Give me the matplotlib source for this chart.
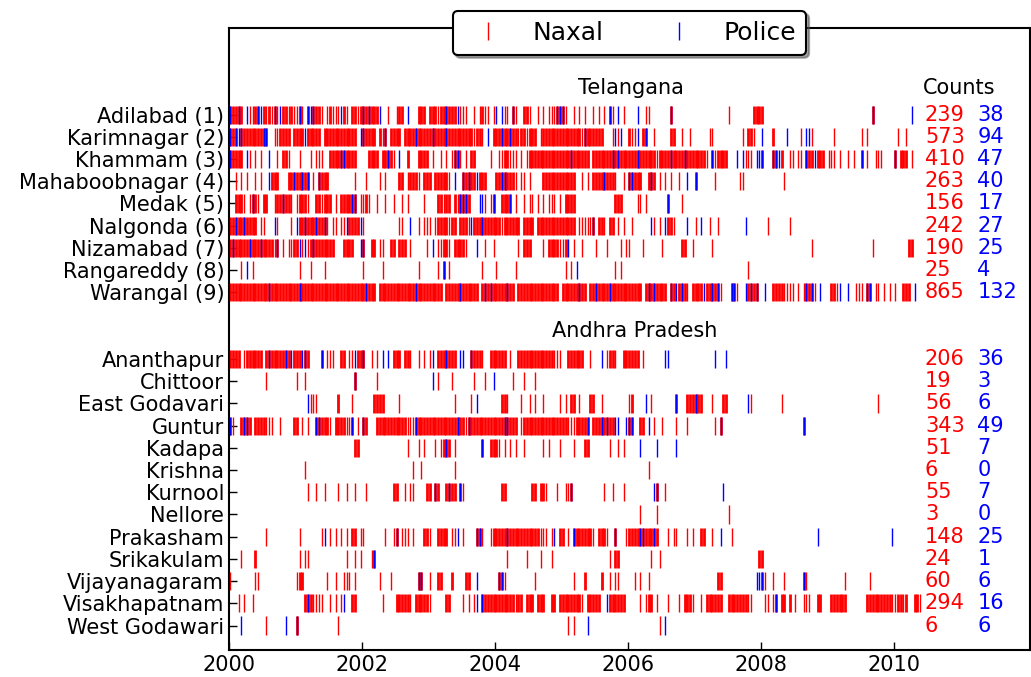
import matplotlib
matplotlib.use("Agg")
import matplotlib.pyplot as plt
from matplotlib.lines import Line2D

telangana = ["Adilabad (1)", "Karimnagar (2)", "Khammam (3)", "Mahaboobnagar (4)",
             "Medak (5)", "Nalgonda (6)", "Nizamabad (7)", "Rangareddy (8)", "Warangal (9)"]
andhra = ["Ananthapur", "Chittoor", "East Godavari", "Guntur", "Kadapa", "Krishna",
          "Kurnool", "Nellore", "Prakasham", "Srikakulam", "Vijayanagaram",
          "Visakhapatnam", "West Godawari"]

naxal_tel = [239, 573, 410, 263, 156, 242, 190, 25, 865]
police_tel = [38, 94, 47, 40, 17, 27, 25, 4, 132]
naxal_ap = [206, 19, 56, 343, 51, 6, 55, 3, 148, 24, 60, 294, 6]
police_ap = [36, 3, 6, 49, 7, 0, 7, 0, 25, 1, 6, 16, 6]

# events read off the raster: one word per year starting 2000, one char per half month
# '.' nothing, 'r' naxal, 'R' dense naxal, 'b' police, 'X' dense naxal + police, '-' empty year
raster_tel = [
    # Adilabad
    "XRRXR.brrRXbRrRrXrbRRrRr rXr.XbXRRr.rRrrrbRr.RRrR XRXRRRb..r..rRR.b...RRR. "
    "RRRrRRXRRRbrrr..r.rRrr.r b.brr.Xr..RRr..r.r.rrrXX Xr..r.r.r..r.r.r.Xr.b.r. "
    "...b..rr.......X........ ............r........RRR R....................... "
    "................X....... ......b",
    # Karimnagar
    "XRXbXRRRRRRRXX..rrRRRR.R RRRbRRRRR.RRRRRRRRRRRR.b XRRRR.RrX.RRRR.RRRRXRRRR "
    "RXRRRRXRRRRRRRRRrRRr.b.R RRXRRXRRrRRrRRR.rRRRRRRR RRRRRRRrXRRRRRR...rbrb.. "
    "Rrrb.RX..r.....RR..r..r. .....rr..........r.RRr.. b...R....b....r.bbr..... "
    "..r.........r.r......... .r..r",
    # Khammam
    "XRRRR.br.r.r..b..r.RRr.. .r...r.rrr..RRRRXXRRRR.. ..RRRR.RRXRr.b..R...RRRR "
    ".r..r.r.rXXr.r.RR.....r. .rrRRrrr.r.rRRRRRRRRRRRR RRRXRRRRRR.RRRRRRRXRXRRR "
    "RRRXRRRRRRrRRRRXRRRRXRRR RRRRr.XrRRRR...b.brrr.bb X...XXbR..rr.rr.XRRbRRR. "
    "rrr.r..r.r..X.r..rrr.... X.RRR.r",
    # Mahaboobnagar
    "..r.r.r..r.r..bRRR...RRX RRXRX.r.XRRR.........r.. .r....r.r....RR.rRRRr.RR "
    "R.RRRRRr.b..XRXRRbRRR... RRXXRRRr.rr.r....RRRRRRR RRRRR..r.r.RRRRXRRRr..r. "
    "XXRRR..RXR.r.r.r..r..b.. X......r........rr...... ........r...............",
    # Medak
    "..RRRr.rXRr.RR..rRRXRRr. rRRRr..RRrRRR.r.RRRRXX.r rRr..r..r..r..r.r.....r. "
    "...RRrRR.RrXXXR...bbr.rX ..RRRX.r..r.rr.r.r.rrr.r .RRRR..............RRR.. "
    "...rr.r.......X....r....",
    # Nalgonda
    "RRXRRXRRRR.rr...br....r. bRRXRRRXRRXr.rr.rrbRRRRb r............rr..b..r.rr "
    "r.rRRRRrRR.RRRrbRRRXRRRR RRrRRRRRR.RRRR.RRRRRRRRR RRRRR.rrrrrX.RRr.RR.r.r. "
    ".r......br.r.bRRr....b.. r.b..r..r.........b..... ..r.......r.............",
    # Nizamabad
    "RXRRRRRXRRRXRRRRrX.r.rrR RbrbrRXRRRRRRR...RRRR..b X..RR.rr..RR.RRR.r.....r "
    ".b.rrRRr.RRRRr...b..r..r ........r.RRR....r.RRRRr rRb.r..r....r...r....r.r "
    "r....r......r......RR..r ......r................. ..................r..... "
    "................r....... .....RR",
    # Rangareddy
    "....r.b.r............... .r...r....r............. r......r............r... "
    "...r.X.r...........r.... r......r................ .r.r.b.............r.r.. "
    "- ...................r....",
    # Warangal
    "RRRRRRRRRRRRRRXRRRRRRRRR RXRRRRRRRRRRRRRRRRRRRRRR RXRRR.RRRRRRRRRRRRRXRRRR "
    "RRRRR.RRRRRXRRRRRR.RXRXR RRRRXRR.RRRRRRRRRRRRRRR. RRRRRRXRR.RRXRRRRXRRRRRR "
    "RRRRR.RXRXRRRR.XRbRXRr.R RRRbRRXRXr...XXr..bRXRX. .b..RRRRrrrr.r.rXRXr.b.. "
    ".RRrb..b..rrr.XX.rr.r.r. r..RRR.b",
]

raster_ap = [
    # Ananthapur
    "RRRR.rRRRRRR.RXRRRRRXRbR RRbXR....X.rrr..RR.rrbRR X..r.r.b.b.RRR.RRr..r.r. "
    "rb.RRRXRRR.bb..XRRRr..RR RRRR.r..RRRRRRRRRRRRRrrr ..RRRRRR..r...b.rRRr..RR "
    "RRRR.r.......bb......... .......b...b............",
    # Chittoor
    ".............r.......... r..r.................X.. .....r.................. "
    ".b.r....r.......r...r..b ......r...r...r.........",
    # East Godavari
    "- ....brrr.......R....r... ....RRRR.....r.......... .........r.....r.b...... "
    "..RRr....r..r.r..r.....r .r.RR.r...RR..r......... rR....b.r........X...RRR "
    "XRR...r...RR.......br... .......r................ ..................r.....",
    # Guntur
    "Xr..RXXR.RRRRrrr..r....R R.r.r..XXRRRr.RRRRrrX.r. XR...RRRRRRRRRRRrrrXRRRR "
    "RRRRRRRRRRXRRrXRRRRRRRRR RRRXXRRR.rRRRRRRRRRRRRRR RRrrrRRRRX.RRRXRXRRbb..b "
    "XX..RR.b.r..r....r...r.. .......r.X.............. ...............X........",
    # Kadapa
    "- .....................RR. ................r...r.r. ..r.rRXR.r.........X..RR "
    "Rr.r.r.r..r......r.r...r ....r...RR.......r..r.r. ....b.....b......b......",
    # Krishna
    "- ...r.................... ..................r..r.. .........r.............. "
    "- - .......r................",
    # Kurnool
    "- ....r..r..r....r..r..r.. .r.........RR..r.rr....R R.XR..RXRR.Xr........... "
    "..RR.........RR.RRr...r. .rrX...........r..r...r. .........bX..r.......... "
    "..........b.............",
    # Nellore
    "- - - - - - ....r.....r............. ............r...........",
    # Prakasham
    ".............r.......... .r.......rb.r.r.r.r.RR.r r.......r..rX.rrr.r...RR "
    "r..RRRR.rrb.r....XXr..rR RRRRXRRRRRRRRRRRrrr.rb.R R.r.XRRRRRRr.RRRr..X...r "
    "RRRRXXRRRXR...r.rr...r.r ..RR..r..b...r.......... ....................b... "
    ".......................b",
    # Srikakulam
    "....r....R.............. .r.rr.............r..r.r ...rX................... "
    "- ....r......r....r...r... .................r.RR... ........r..r............ "
    ".......................R R.......................",
    # Vijayanagaram
    "r........rr............. rRR........r..r..rrr.r.. ......r...r.........XX.. "
    "r..RR...R....RR..b...... .XXr..........r......... ....r...R.....R..r.rr... "
    "..r.r..r................ ........RR............bb Xr..r...r......Xr....... "
    "......r........r........",
    # Visakhapatnam
    "...r.r..r............... ...RXRrrrr..r.r.rb..RR.. .......r....RRRRRr.RRRRR "
    "r.....RR....r.r.rb.XRRRR RRRRRRRrRR.RRR.RRR..RR.R RRRRRRRr.RRRRR..bRRRRRR. "
    "....r.rRR.r...r...r.RRRr ..r.RRRRRR..RRRRRRRrr... .rr.rX.RR.R.r..rrr..RR.. "
    ".RRRRRR.......RRRRRRRRRr rRRrR..RRr",
    # West Godawari
    "....b........r......b... X..............r........ - - - "
    "..r.r....b.............. ...........r.b..........",
]

BINS = 24
y_tel = list(range(len(telangana)))
y_ap = [11 + i for i in range(len(andhra))]


def decode(row):
    thin, wide, blue = [], [], []
    for k, word in enumerate(row.split()):
        if word == "-":
            continue
        for i, c in enumerate(word):
            t = 2000 + k + (i + 0.5) / BINS
            if c == "r":
                thin.append(t)
            elif c == "R":
                wide.append(t)
            elif c == "b":
                blue.append(t)
            elif c == "X":
                wide.append(t)
                blue.append(t)
    return thin, wide, blue


fig = plt.figure(figsize=(10.31, 6.77), dpi=100)
ax = fig.add_axes([229 / 1031, 27 / 677, 801 / 1031, 622 / 677])

h = 0.41
for rows, ys in [(raster_tel, y_tel), (raster_ap, y_ap)]:
    for row, y in zip(rows, ys):
        thin, wide, blue = decode(row)
        ax.vlines(wide, y - h, y + h, color="#ff0000", linewidth=2.0, zorder=2)
        ax.vlines(thin, y - h, y + h, color="#ff0000", linewidth=1.0, zorder=2)
        ax.vlines(blue, y - h, y + h, color="#0000ff", linewidth=1.0, zorder=3)

# counts column
for nx, pc, y in zip(naxal_tel + naxal_ap, police_tel + police_ap, y_tel + y_ap):
    ax.text(2010.47, y, str(nx), color="#ff0000", fontsize=15, ha="left", va="center")
    ax.text(2011.26, y, str(pc), color="#0000ff", fontsize=15, ha="left", va="center")

ax.text(2010.44, -1.2, "Counts", fontsize=15, ha="left", va="center")
ax.text(2006.05, -1.2, "Telangana", fontsize=15, ha="center", va="center")
ax.text(2006.1, 9.75, "Andhra Pradesh", fontsize=15, ha="center", va="center")

ax.set_xlim(2000, 2012.05)
ax.set_ylim(24.1, -3.9)
ax.set_xticks([2000, 2002, 2004, 2006, 2008, 2010])
ax.set_yticks(y_tel + y_ap)
ax.set_yticklabels(telangana + andhra)
ax.tick_params(direction="in", length=6, width=1, top=False, right=False, labelsize=15)
for s in ax.spines.values():
    s.set_linewidth(1.5)

handles = [Line2D([], [], color="#ff0000", marker="|", linestyle="None", markersize=13, markeredgewidth=1),
           Line2D([], [], color="#0000ff", marker="|", linestyle="None", markersize=13, markeredgewidth=1)]
leg = ax.legend(handles, ["Naxal", "Police"], loc="center", bbox_to_anchor=(0.5, 0.992),
                ncol=2, fontsize=18, fancybox=True, shadow=True, framealpha=1, numpoints=1)
leg.get_frame().set_edgecolor("black")
leg.get_frame().set_linewidth(1.5)

fig.savefig("out.png", dpi=100)
